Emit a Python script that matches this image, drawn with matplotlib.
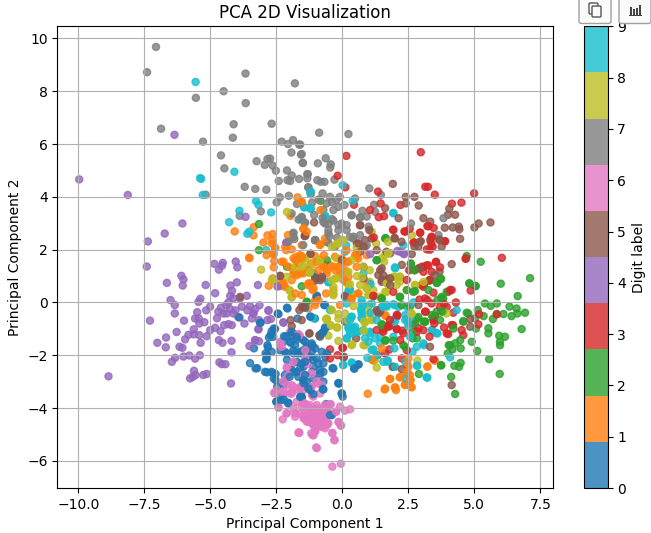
import numpy as np
import matplotlib.pyplot as plt
from matplotlib.patches import FancyBboxPatch, Rectangle

digit_0 = [(-2.45,-.42),(-2.08,-.23),(-3.9,-.57),(-3.12,-.77),(-1.7,-.61),(-2.55,-1.0),(-2.68,-1.09),(-2.62,-1.3),(-2.78,-1.33),(-2.21,-1.28),
    (-1.92,-1.24),(-1.73,-1.4),(-1.96,-1.53),(-1.48,-1.43),(-3.35,-1.74),(-2.82,-1.7),(-2.68,-1.87),(-2.91,-1.93),(-2.87,-2.12),(-2.36,-1.81),
    (-2.11,-1.93),(-1.86,-1.81),(-1.67,-1.93),(-1.41,-1.87),(-1.22,-2.06),(-3.5,-2.3),(-3.23,-2.49),(-2.85,-2.65),(-2.62,-2.68),(-2.53,-2.71),
    (-2.18,-2.75),(-2.53,-2.94),(-1.92,-2.56),(-1.73,-2.63),(-1.54,-2.31),(-1.67,-2.82),(-1.35,-3.01),(-1.41,-2.75),(-2.47,-3.19),(-2.22,-3.67),
    (-2.5,-3.76),(-2.05,-3.83),(-1.54,-3.57),(-1.29,-3.26),(-.69,-.1),(-1.19,-.54),(-1.04,-.61),(-.72,-1.11),(-.85,-1.3),(-1.16,-1.62),
    (-1.48,-1.81),(-1.35,-1.68),(-1.54,-1.93),(-1.16,-1.87),(-.59,-1.93),(-.91,-2.31),(-.72,-2.63),(-1.48,-2.44),(-1.1,-2.88),(-1.48,-2.94),
    (-.72,-3.0),(-.74,-3.28),(-.37,-2.49),(-.13,-3.07),(-.03,-3.45),(.01,-3.57),(.45,-2.51),(.61,-2.35),(-.47,-4.27),(-1.1,-2.18),
    (-1.54,-3.6),(-1.22,-3.32),(-.85,-2.69),(-1.1,1.1),(-.97,.25),(-1.22,-.54),(-.66,-.95),
    (-2.5,-3.76),(-2.3,-3.7),(-2.05,-3.8),(-1.58,-3.57),(-1.1,-3.47),(-.15,-3.05),(-.02,-3.45),(-1.47,-3.05),(-1.25,-3.2),(-.72,-3.3),
    (-2.23,-3.07),(-.62,-3.85),(-.4,-4.27),(-2.42,-.44),(-3.1,-.77),(-2.6,-.99),(-2.72,-1.24),(-2.13,-1.28),(-1.92,-1.11),(-1.73,-1.3),
    (-2.84,-1.62),(-2.23,-1.49),(-1.98,-1.49),(-1.79,-1.62),(-1.41,-1.49),(-1.16,-1.55),(-.78,-1.18),(-.65,-.99),(-2.86,-2.0),(-2.89,-2.16),
    (-2.18,-1.87),(-1.85,-1.93),(-1.6,-1.87),(-1.35,-1.8),(-1.03,-1.74),(-.78,-1.87),(-.65,-2.06),(-.72,-2.31),(-.34,-2.5),(-3.29,-2.5),
    (-2.93,-2.63),(-2.68,-2.63),(-2.6,-2.88),(-2.1,-2.18),(-1.73,-2.25),(-1.41,-2.25),(-1.6,-2.5),(-1.85,-2.63),(-2.0,-2.82),(-1.48,-2.94),
    (-1.1,-2.44),(-.85,-2.56),(-.97,-2.12),(-.15,-3.07),(-1.6,-3.58),(-2.36,-3.58),(-1.03,.98),(-.97,.24),(-.66,-.1),(-2.1,-.2),
    (-1.41,-.2),(.45,-2.5),(.61,-2.35)]

digit_1 = [(-1.7,3.98),(-1.54,3.79),(-1.97,3.28),(-3.36,2.85),(-4.08,2.69),(-2.84,2.54),(-2.64,2.59),(-2.99,2.27),(-2.66,2.36),(-2.06,2.55),
    (-1.48,2.78),(-3.37,2.54),(-2.55,2.07),(-2.13,1.98),(-1.92,2.01),(-2.87,1.79),(-2.61,1.83),(-3.53,1.69),(-1.54,2.17),(-1.73,1.73),
    (-.83,3.5),(-1.54,3.81),(-1.47,2.8),(-1.35,2.68),(-.83,2.2),(-.66,2.42),(-.7,1.79),(-.28,1.73),(.16,1.98),(.54,1.86),
    (.54,1.73),(.92,1.79),(-.97,1.54),(-1.19,1.48),(-.66,1.41),(-.34,1.35),(-.03,1.48),(.23,1.54),(.1,1.22),(-.09,1.1),
    (-.59,1.22),(-.91,1.22),(-1.29,.72),(.04,.85),(.23,.97),(.61,.34),(-.62,.34),(-.09,-.1),(.35,.15),(-1.54,.28),
    (-1.29,-.23),(-.91,.09),(1.64,-.51),(.98,.72),(-1.54,1.73),(1.81,-2.9),(2.18,-2.83),(1.6,-3.3),(2.0,-3.22),(2.03,-3.32),
    (.96,-3.46),(2.37,-3.11),(2.59,-3.19),(2.59,-2.94),(2.44,-2.63),(2.47,-2.37),(2.5,-2.12),(3.22,-2.42),(3.51,-2.21),(1.49,-1.74),
    (1.11,-2.16),(2.56,-2.75),(-1.04,.03),(-1.13,.47),(-3.52,1.68),(-2.62,1.86),(-2.58,1.57),(-2.23,1.54),
    (-1.78,1.6),(-2.6,1.33),(-1.53,1.73),(-1.6,1.1),(-1.29,1.22),(-2.64,.91),(-2.79,.63),(-2.29,.66),(-1.85,1.07),(-2.23,.72),
    (-1.23,.72),(-1.78,.34),
    (-2.67,2.23),(-2.55,2.06),(-2.61,1.83),(-2.17,2.1),(-2.3,1.54),(-1.85,1.67),(-1.6,1.79),(-2.04,1.35),(-1.66,1.48),(-1.85,1.16),
    (-1.48,1.1),(-1.73,1.03),(-1.92,.84),(-1.29,.65),(-1.09,.53),(-.85,2.17),(-1.03,1.75),(-.72,1.35),(-.47,1.41),(-.27,1.22),
    (-.02,1.66),(.16,1.54),(.48,1.79),(.6,1.66),(.54,1.35),(-.08,1.03),(.12,.78),(.35,.13),(.6,.34),(-1.03,.09),
    (-1.03,-.1),(-.34,.47),(-.59,1.1),(-.15,1.35),(-2.36,.78),(-2.17,.59),(-1.35,1.16),(1.62,-.48),(1.18,-2.2),(3.22,-2.44),
    (2.5,-2.44),(2.44,-2.72),(2.56,-2.94),(2.18,-2.84),(1.8,-2.9),(1.62,-3.26),(1.99,-3.22),(2.37,-3.13),(2.63,-3.22)]

digit_2 = [(-3.16,2.97),(-3.16,1.98),(4.71,1.76),(5.24,1.54),(7.11,.92),(6.0,.71),(4.81,.72),(5.05,.62),(6.64,.24),(1.64,2.44),
    (-.83,3.85),(1.3,1.6),(2.6,1.45),(2.75,1.22),(3.3,.82),(3.59,.74),(3.73,.91),(3.76,.21),(3.95,.4),(2.75,.43),
    (2.18,.21),(2.44,.47),(5.4,-.04),(5.62,-.13),(5.85,-.04),(6.33,-.16),(6.6,-.23),(6.92,-.39),(6.63,-.42),(6.41,-.52),
    (6.1,-.44),(5.85,-.44),(5.7,-.63),(5.13,-.29),(5.35,-.52),(4.71,-.39),(5.03,-.6),(4.58,-.71),(-1.35,.03),(3.57,-.35),
    (3.82,-.35),(3.14,-.73),(2.82,-.6),(1.49,-.86),(1.49,.15),(2.56,-.16),(5.53,-.98),(6.79,-1.01),(5.06,-.99),(5.53,-1.17),
    (4.9,-1.49),(5.94,-1.26),(6.16,-1.3),(5.97,-1.49),(5.97,-1.62),(5.11,-1.84),(5.56,-2.15),(4.08,-1.62),(4.27,-1.55),(4.48,-1.74),
    (4.17,-1.78),(3.99,-1.93),(3.74,-2.39),(4.48,-2.29),(4.24,-2.4),(4.42,-2.44),(4.12,-2.82),(2.9,-2.71),(5.96,-2.71),(4.27,-3.47),
    (1.64,-1.43),(1.93,-1.45),(2.37,-1.68),(2.66,-1.36),(4.21,-.99),(4.46,-1.43),(3.07,-.73),(3.38,-.48),(3.76,-.35),(3.82,.15),
    (4.58,-.73),(4.77,-.42),
    (-2.1,1.35),(-1.54,.61),(-.59,1.6),(1.3,1.6),(-1.35,0.0),(2.59,1.48),(2.72,1.22),(3.3,.85),(3.57,.74),(3.73,.88),
    (4.81,.72),(5.04,.62),(1.62,2.42),(2.18,.21),(2.69,.4),(3.26,.47),(3.76,.15),(3.6,.1),(1.49,.15),(1.62,-1.45),
    (2.31,-1.62),(3.74,-2.37),(1.49,-.82),(2.88,-.55),(2.75,-.8),(3.13,-.73),(3.45,-.55),(3.7,-.67),(2.63,-1.17),(2.82,-1.36),
    (4.03,-1.62),(2.25,-.1)]

digit_3 = [(.15,5.55),(2.97,5.69),(-.18,4.8),(.11,4.36),(3.14,4.38),(3.24,4.38),(1.35,4.2),(3.5,4.08),(4.99,4.13),(4.15,3.74),
    (4.51,3.78),(1.45,3.75),(2.2,3.69),(.44,3.7),(1.38,3.23),(1.58,3.27),(3.22,2.89),(3.46,2.82),(1.92,2.76),(2.35,2.69),
    (2.55,2.79),(2.95,2.64),(3.38,2.46),(2.73,2.27),(3.37,2.23),(3.88,2.31),(3.2,2.01),(3.42,2.11),(6.04,1.69),(4.67,1.65),
    (3.54,1.53),(3.26,1.4),(3.07,1.35),(3.7,1.33),(3.38,1.16),(3.32,.85),(3.09,.69),(3.07,.59),(2.53,1.22),(4.86,.45),
    (4.14,.47),(4.01,.4),(3.45,.37),(1.17,.25),(3.85,-.06),(3.7,-.16),(4.3,0.0),(3.22,.09),(3.16,-.35),(5.18,-.45),
    (3.45,-.6),(2.06,-.54),(1.74,-.92),(4.14,-.86),(2.69,-.86),(2.44,.85),(4.2,-.39),(3.45,-.67),(3.48,-.8),(3.85,-.95),
    (4.19,-.86),(4.01,-1.2),(4.52,-1.05),(4.58,-1.24),(5.15,-.83),(5.85,-.45),(2.88,-.98),(2.82,-1.11),(2.06,-.48),(1.78,-.9),
    (1.56,-1.02),(2.06,-1.02),(2.27,-1.07),(2.19,-1.43),(2.44,-1.81),(1.78,-1.78),(1.33,-2.0),(0.0,-1.72),(-.47,-1.78),(-.47,-2.12),
    (-.18,-2.0),(2.25,-2.12),(3.45,-2.15),(3.13,-.35),(3.3,-1.3),(3.38,-.04),
    (1.05,3.5),(1.19,2.46),(1.19,.24),(2.38,2.68),(1.93,2.74),(2.94,2.64),(3.26,2.89),(3.38,2.49),(2.69,2.27),(3.32,2.0),
    (3.89,2.32),(3.01,1.35),(3.2,1.41),(3.55,1.54),(2.88,1.29),(3.07,1.16),(4.08,.47),(3.0,.66),(1.93,.4),(2.92,.11),
    (3.13,.15),(3.95,-.17),(4.68,1.67),(2.08,-.48),(1.74,-.86),(1.55,-1.11),(1.8,-.67),(3.51,-.5),(3.07,-1.05),(2.31,-1.17),
    (2.06,-1.0),(1.62,-1.93),(.02,-1.72),(3.95,-1.17),(1.3,-1.05)]

digit_4 = [(-9.97,4.66),(-8.13,4.07),(-6.36,6.35),(-3.67,3.24),(-6.06,2.99),(-6.73,2.61),(-7.37,2.31),(-2.1,2.27),(-7.41,1.36),(-4.85,1.46),
    (-4.04,1.55),(-4.53,1.5),(-3.98,1.33),(-4.56,1.39),(-4.68,1.24),(-6.1,1.01),(-6.02,.87),(-6.65,.74),(-6.05,.64),(-5.18,.66),
    (-4.0,.76),(-4.24,.64),(-4.18,.44),(-4.82,.35),(-4.25,.25),(-4.13,.15),(-3.88,.15),(-3.62,.25),(-3.2,.66),(-2.35,.62),
    (-6.51,.09),(-5.38,.14),(-5.45,.02),(-6.35,-.1),(-6.35,-.42),(-7.29,-.69),(-6.0,-.69),(-5.5,-.37),(-5.16,-.3),(-5.01,-.16),
    (-4.32,0.0),(-4.7,-.35),(-4.51,-.42),(-4.13,-.42),(-4.38,-.42),(-3.81,-.16),(-3.5,-.14),(-3.14,-.11),(-3.37,-.42),(-2.8,-.32),
    (-2.71,-.63),(-3.43,-.61),(-2.84,-.67),(-5.58,-.61),(-5.44,-.61),(-5.23,-.75),(-5.42,-.8),(-4.48,-.86),(-4.32,-.82),(-4.19,-.86),
    (-3.71,-.8),(-3.18,-1.01),(-2.24,-.75),(-6.28,-1.12),(-6.68,-1.33),(-7.01,-1.53),(-6.69,-1.7),(-6.17,-1.68),(-6.06,-1.72),(-5.96,-1.4),
    (-5.83,-1.23),(-5.63,-1.02),(-5.63,-1.21),(-5.42,-1.24),(-5.37,-1.53),(-5.14,-1.28),(-5.01,-1.05),(-4.82,-.96),(-4.62,-1.09),(-4.68,-1.43),
    (-4.54,-1.53),(-4.2,-1.45),(-3.31,-1.43),(-3.16,-1.47),(-3.52,-1.65),(-4.2,-1.89),(-6.34,-2.1),(-6.46,-2.25),(-6.02,-2.05),(-5.8,-2.01),
    (-5.4,-2.0),(-5.58,-2.13),(-4.66,-2.27),(-4.57,-2.34),(-4.43,-2.34),(-5.62,-2.59),(-5.56,-2.75),(-5.77,-2.88),(-5.67,-2.82),(-5.27,-2.75),
    (-5.14,-2.71),(-8.86,-2.8),(-4.22,-3.07),(-3.16,-.67),(2.18,1.92),(2.33,1.83),(1.05,1.83),
    (-3.37,-.42),(-2.8,-.29),(-3.18,-1.02),(-3.3,-1.43),(-2.23,-.77),(-2.13,2.27),(-2.46,.6),(-2.23,.66),(2.08,1.95),(2.34,1.85),
    (-4.4,-.1),(-4.25,-.25),(-4.05,-.3),(-4.6,-.2),(-3.95,-.55),(-4.75,-.6),(-3.3,-.25),(-3.6,-.3)]

digit_5 = [(-1.41,2.53),(1.91,4.49),(2.4,4.0),(2.73,4.0),(2.4,3.75),(2.89,3.67),(1.62,3.57),(4.05,3.55),(4.0,3.32),(4.27,3.32),
    (2.13,3.19),(3.07,3.19),(3.33,3.06),(5.16,2.99),(5.61,3.03),(5.0,2.84),(3.88,2.83),(4.18,2.84),(4.41,2.87),(4.43,2.77),
    (4.46,2.41),(3.66,2.4),(2.97,2.32),(1.98,2.45),(2.24,2.3),(1.3,1.98),(2.88,2.11),(3.76,2.11),(-1.07,3.03),(-1.43,2.51),
    (.67,2.92),(1.02,2.74),(.61,2.24),(.86,2.36),(1.11,2.42),(.8,2.11),(-1.22,1.83),(1.81,1.86),(2.63,1.83),(4.14,1.45),
    (2.25,1.42),(.8,1.35),(1.43,1.22),(1.36,1.04),(.8,.91),(1.81,.91),(1.49,.85),(.1,.25),(-.78,.91),(-1.04,.82),
    (-.97,.21),(1.3,-.29),(4.84,-.92),(-1.54,-.67),(-1.48,-.16),(4.14,-3.13),(3.32,-1.68),(2.25,-2.53),(1.91,-2.44),(.06,-2.06),
    (-1.25,-1.17),(.52,-1.36),(1.34,-.35),(.1,.21),(4.84,-.63),(-.85,-1.24),(2.88,-.1),(-1.96,-.67),(-1.92,-.9),
    (-1.63,-.29),(-1.48,-.19),(-2.36,1.01),(-3.88,.21),
    (-1.41,2.53),(-1.03,2.36),(-1.2,1.85),(-2.36,1.0),(-.84,.84),(-1.03,.91),(-.77,.97),(.55,2.23),(.67,2.93),(-.02,1.6),
    (.27,.5),(-1.54,-.16),(.67,1.92),(1.98,2.42),(2.94,2.29),(2.73,2.11),(3.68,2.36),(3.32,2.36),(2.94,1.29),(3.51,1.03),
    (3.68,1.16),(1.67,1.92),(1.49,1.29),(1.55,1.03),(1.49,.78),(1.81,.66),(1.75,.9),(-1.25,-1.18),(-.87,-1.24),(.04,-2.09),
    (1.92,-2.44),(1.43,-.35),(.1,-.73),(1.36,-.42)]

digit_6 = [(-2.36,-1.49),(-1.98,-1.11),(-1.67,-1.2),(-2.3,-1.68),(-1.86,-2.25),(-2.11,-2.46),(-2.05,-2.75),(-2.24,-3.0),(-2.49,-3.32),(-2.21,-3.38),
    (-1.92,-3.13),(-1.92,-3.45),(-1.6,-3.26),(-2.42,-3.98),(-2.11,-4.2),(-2.26,-4.43),(-1.79,-4.2),(-1.6,-4.2),(-1.45,-4.39),(-1.29,-3.95),
    (-1.65,-4.92),(-1.73,-3.76),(-1.48,-3.83),(-1.18,-4.96),(.29,-4.05),(-.09,-3.95),(.1,-4.1),(-.24,-4.14),(-.44,-3.86),(-.66,-3.89),
    (-.85,-3.45),(-1.1,-3.57),(-.97,-3.89),(-1.22,-3.89),(-1.41,-3.83),(-1.54,-3.95),(-1.35,-4.14),(-1.1,-4.14),(-.85,-4.14),(-.66,-4.2),
    (-.54,-4.14),(-1.22,-4.33),(-.97,-4.33),(-.72,-4.39),(-1.47,-4.39),(-1.29,-4.52),(-1.04,-4.52),(-.78,-4.58),(-.53,-4.58),(-.13,-4.55),
    (-.06,-4.65),(-.91,-4.71),(-1.04,-4.84),(-.66,-4.77),(-1.1,-5.03),(-.38,-4.96),(-.3,-5.21),(-1.63,-4.94),(-.97,-5.52),(-.38,-6.22),
    (-.06,-6.11),(-1.6,-1.3),(-1.35,-2.12),(-1.29,-2.34),(-1.16,-2.63),(-.97,-3.07),(-1.45,-2.75),(-.85,-2.75),(-1.48,-3.32),(-1.16,-3.19),
    (-1.41,-1.81),(-1.1,-1.68),
    (-2.11,-4.2),(-1.79,-4.33),(-1.48,-4.27),(-1.16,-4.14),(-.91,-4.27),(-.65,-4.39),(-1.22,-4.39),(-1.03,-4.46),(-.84,-4.52),(-.53,-4.2),
    (-.47,-3.85),(-.72,-4.02),(-.97,-4.02),(-1.35,-4.52),(-1.16,-4.58),(-.97,-4.71),(-.78,-4.71),(-1.03,-4.9),(-1.12,-5.03),(-.59,-4.65),
    (-.15,-4.52),(-.06,-4.67),(-1.66,-4.94),(-.38,-4.94),(-.3,-5.22),(-.99,-5.49),(-.24,-4.14),(-1.85,-4.02),(-2.42,-3.98),(-1.92,-3.39),
    (-2.23,-3.45),(-2.59,-3.42),(-2.1,-3.13),(-1.6,-3.2),(-1.16,-3.51),(-2.36,-1.55),(-1.85,-1.18),(-1.63,-1.24),(-1.41,-2.09),(-1.85,-2.29),
    (-2.1,-2.5),(-2.18,-2.94),(-2.23,-3.13),(-1.85,-3.2),(-1.66,-3.32),(-1.97,-3.45),(-2.55,-3.45),(-1.16,-2.69),(-.97,-3.0),(-.78,-3.13),
    (-1.0,-4.1),(-.85,-4.3),(-1.15,-4.25),(-.9,-4.45),(-1.1,-4.65),(-.75,-4.05),(-1.3,-4.2),(-.6,-4.55)]

digit_7 = [(-7.06,9.68),(-7.4,8.72),(-3.67,8.67),(-1.8,8.3),(-4.5,8.0),(-5.55,7.75),(-3.66,7.55),(-6.87,6.58),(-4.12,6.75),(-2.68,6.77),
    (-4.15,6.24),(-5.28,6.09),(-2.3,6.09),(-1.87,6.15),(-2.06,6.0),(-1.64,5.98),(-1.93,5.68),(-1.57,5.6),(-4.6,5.57),(-3.25,5.35),
    (-2.84,5.43),(-2.74,5.45),(-2.94,5.21),(-2.64,5.18),(-2.52,4.99),(-1.5,5.28),(-4.47,5.08),(-2.1,5.0),(-1.92,4.81),(-1.33,4.86),
    (-2.08,4.63),(-1.98,4.6),(-1.64,4.68),(-2.41,4.6),(-3.7,4.38),(-3.3,4.3),(-2.88,4.27),(-1.29,4.36),(-5.18,4.08),(-2.37,3.98),
    (-2.03,4.04),(-2.49,3.79),(-1.72,3.73),(-3.09,3.45),(-3.89,3.28),(-1.92,3.37),(-1.54,3.24),(-1.43,3.03),(-1.87,2.61),(-1.82,2.4),
    (-.88,6.43),(.23,6.38),(-1.6,5.98),(-1.54,5.62),(-1.5,5.29),(-.93,5.27),(-.63,5.46),(-.44,5.23),(-.46,5.11),(-1.31,4.86),
    (-1.33,4.7),(-.3,4.65),(-.95,4.63),(-.82,4.57),(-.68,4.57),(-1.29,4.36),(-.75,4.13),(-.47,4.0),(1.02,4.32),(1.46,4.07),
    (.48,3.94),(-.22,3.88),(-1.15,3.78),(-.34,3.5),(.08,3.69),(1.2,3.7),(.76,3.47),(.35,3.31),(-1.07,3.31),(-1.54,3.22),
    (-.4,3.16),(.67,3.22),(1.24,3.43),(3.83,3.19),(2.6,2.99),(-.03,2.99),(-.66,2.99),(-.53,2.61),(-1.04,2.36),(.99,2.87),
    (3.64,2.55),(.42,2.49),(-.28,2.11),(.86,2.11),(-.59,2.29),(.16,2.93),(-.15,3.62),(-.72,3.5),
    (-1.41,3.02),(-1.66,3.14),(-1.85,2.64),(-1.85,2.48),(-2.04,2.3),(-1.48,2.17),(-1.03,2.36),(-.72,3.05),(-.53,2.97),(-.34,3.1),
    (-.15,2.93),(.16,2.74),(-.15,2.74),(-.53,2.74),(-.49,2.51),(-.53,2.26),(.35,3.3),(.67,3.22),(.92,3.25),(.28,2.48),
    (.67,2.55),(.4,2.42),(.92,2.17),(-.9,3.9),(-.6,3.75),(-.4,3.8),(-.1,4.0),(-.75,3.2),(-.2,2.45),(-1.2,4.1)]

digit_8 = [(-2.1,3.43),(-1.48,1.69),(2.63,2.54),(1.73,2.29),(1.11,2.68),(.04,2.36),(-.15,2.23),(1.28,2.23),(.54,2.08),(1.74,1.86),
    (1.61,1.79),(-.22,1.67),(-.91,1.63),(-.78,1.5),(-1.54,1.67),(-1.47,1.38),(-1.25,1.12),(.16,1.16),(-.28,.91),(.29,.69),
    (-.34,.59),(-.34,.34),(.92,.53),(.98,.28),(1.68,.72),(1.99,.97),(2.18,.97),(2.06,.66),(1.62,.4),(2.75,.66),
    (1.43,.21),(-.4,-.29),(-.59,-.61),(.98,-.42),(.86,-.73),(1.11,-.67),(2.63,-.42),(-.15,-.61),(1.55,.85),(.67,.66),
    (-.53,-1.26),(-.15,-1.46),(.35,-1.62),(.86,-1.62),(.82,-1.07),(1.11,-.64),(.86,-.76),(-.44,-.86),(-.21,-.95),(-.62,-.63),
    (-.15,-.44),(-.44,-.27),(1.24,-2.18),(1.3,-2.47),(2.84,-2.2),(2.6,-.44),(3.95,-.42),(.99,-.13),(.1,-.42),(.99,.28),
    (-3.08,1.24),(-2.63,.82),(-1.79,1.33),(-1.52,1.35),(-2.11,.97),(-1.99,.44),(-1.92,.19),(-1.5,1.67),
    (-.01,2.36),(-.2,2.23),(-1.41,1.67),(-1.5,1.67),(-.84,1.6),(-.77,1.54),(-1.16,1.41),(-1.22,1.16),(-1.78,1.33),(-2.67,.84),
    (.23,1.16),(.23,.66),(-.2,.91),(-.4,.84),(-.34,.27),(-2.0,.47),(-1.92,.2),(.92,.53),(1.17,.47),(1.04,1.22),
    (.79,1.35),(1.04,.78),(-.4,2.1),(.35,1.6),(1.49,1.67),(1.58,1.54),(1.74,1.86),(1.92,.97),(2.18,.78),(1.71,.72),
    (1.68,.4),(2.44,.47),(3.07,.78),(2.75,.66),(2.18,.98),(-.59,-.65),(-.47,-.89),(-.19,-.95),(.2,-.67),(.37,-1.59),
    (1.18,-2.2),(.8,-1.62),(.82,-.73),(.8,-1.05),(2.59,-.42),(.42,-.14),(1.0,-.1),(.55,1.0),(.75,.95),(.4,.3)]

digit_9 = [(-5.56,8.35),(-5.39,4.71),(-5.35,4.68),(-4.09,4.95),(-5.29,4.07),(-3.27,3.84),(-3.18,3.7),(-3.9,3.47),(-2.7,3.41),(-4.29,3.04),
    (-3.6,2.6),(-3.53,2.68),(-1.44,3.61),(-1.6,3.16),(-1.22,4.18),(-2.89,1.98),(-1.22,3.56),(.01,4.44),(-1.19,4.19),(1.93,3.38),
    (-1.45,3.6),(-1.19,3.55),(-.66,3.27),(.39,3.85),(2.31,2.17),(.1,1.92),(1.99,1.33),(.8,1.1),(-.53,.76),(1.07,.69),
    (.23,.44),(4.33,-.29),(.16,-.04),(.73,-.04),(.73,-.29),(1.11,-.04),(1.55,-.16),(1.99,-.1),(.35,-.54),(.73,-.61),
    (.23,-.92),(.48,-.92),(1.99,-.73),(2.44,-.61),(1.3,-.67),(.42,-.98),(.61,-1.11),(.29,-1.17),(.8,-1.05),(1.05,-1.17),
    (.16,-1.36),(.99,-1.49),(1.43,-1.55),(1.18,-1.78),(1.97,-1.74),(2.82,-1.68),(3.09,-1.62),(2.66,-1.87),(.95,-2.1),(1.55,-2.25),
    (1.7,-2.25),(.35,-2.27),(.04,-2.37),(2.0,-2.44),(2.82,-2.39),(3.19,-2.84),(2.39,-2.88),(4.08,-2.08),(3.38,-1.05),(3.57,-1.17),
    (2.5,-.8),(1.68,-.16),(.73,-.57),(.29,-.67),(1.43,-1.3),(1.93,-1.3),
    (-.64,3.27),(.14,2.17),(-.53,.78),(.29,.47),(.79,-.1),(.73,.09),(1.93,3.39),(2.0,1.29),(1.93,-.07),(2.12,-.17),
    (1.68,-.1),(2.44,-.17),(2.69,0.0),(.35,-.55),(.23,-.99),(.42,-.99),(.35,-1.17),(.54,-1.11),(.73,-.42),(1.07,-.39),
    (1.36,-.35),(1.05,-1.11),(1.24,-1.36),(.86,-1.36),(.17,-1.36),(1.93,-.67),(2.38,-.67),(2.63,-.67),(2.5,-.92),(2.56,-1.3),
    (3.07,-1.55),(3.42,-1.05),(3.6,-1.17),(1.11,-1.8),(1.3,-2.0),(1.72,-2.2),(.37,-2.3),(2.84,-2.4),(3.22,-2.85),(2.38,-2.25),
    (.7,-.27),(1.49,-.17),(2.38,-.48),(2.56,-.42),(.02,-2.37),(.3,-1.05),(-.47,-.29),(-1.1,-.6)]

digits = [digit_0, digit_1, digit_2, digit_3, digit_4, digit_5, digit_6, digit_7, digit_8, digit_9]

points = np.array([p for d in digits for p in d])
labels = np.array([i for i, d in enumerate(digits) for _ in d])

# classes overlap in the plot, so mix the drawing order with a fixed stride
n = len(points)
order = np.argsort((np.arange(n) * 397) % n)

fig = plt.figure(figsize=(6.51, 5.33), dpi=100)
ax = fig.add_axes([57.3 / 651, 1 - 488 / 533, 496 / 651, 461.7 / 533])
sc = ax.scatter(points[order, 0], points[order, 1], c=labels[order], cmap='tab10', alpha=0.8, s=26)
ax.set_xlim(-10.8, 7.99)
ax.set_ylim(-7.03, 10.46)
ax.set_title('PCA 2D Visualization')
ax.set_xlabel('Principal Component 1')
ax.set_ylabel('Principal Component 2')
ax.grid(True)

cax = fig.add_axes([584.3 / 651, 1 - 488 / 533, 23.3 / 651, 461.7 / 533])
cbar = fig.colorbar(sc, cax=cax, label='Digit label')
cbar.set_ticks(range(10))

# the two toolbar buttons at the top right of the screenshot
W, H = 651, 533
for x0 in [579, 619]:
    fig.add_artist(FancyBboxPatch((x0 / W, 1 - 23.5 / H), 32 / W, 30 / H, boxstyle='round,pad=0,rounding_size=0.004',
                                  transform=fig.transFigure, fc='#fafafa', ec='#a0a0a0', lw=1))
for x0, y0 in [(589, 3), (592, 6)]:
    fig.add_artist(FancyBboxPatch((x0 / W, 1 - (y0 + 11) / H), 9 / W, 11 / H, boxstyle='round,pad=0,rounding_size=0.002',
                                  transform=fig.transFigure, fc='#fafafa', ec='#555555', lw=1))
for x0, h in [(630, 8), (633, 6), (636, 7), (639, 10)]:
    fig.add_artist(Rectangle((x0 / W, 1 - 15 / H), 2.2 / W, h / H, transform=fig.transFigure, fc='#444444', ec='none'))
fig.add_artist(Rectangle((629 / W, 1 - 16 / H), 13 / W, 1 / H, transform=fig.transFigure, fc='#444444', ec='none'))

fig.savefig('out.png', dpi=100)
